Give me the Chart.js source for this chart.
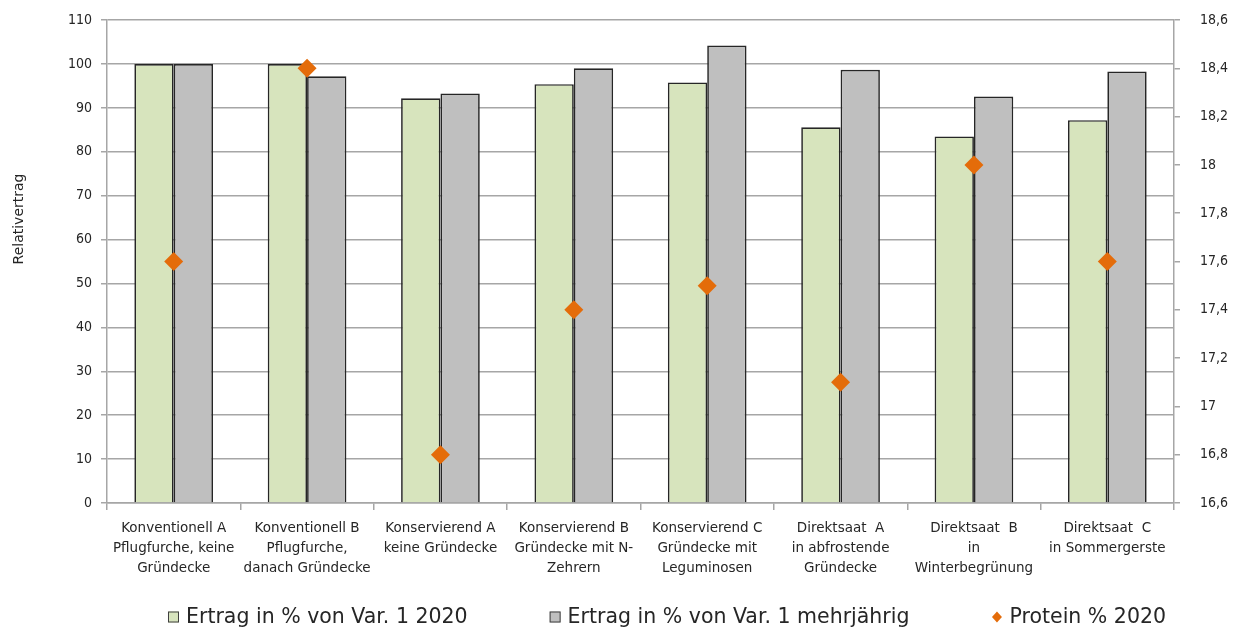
<!DOCTYPE html>
<html lang="de">
<head>
  <meta charset="UTF-8">
  <title>Relativertrag und Protein</title>
  <style>
    html, body { margin: 0; padding: 0; background: #fff; }
    #wrap { width: 1247px; height: 632px; }
  </style>
</head>
<body>
  <div id="wrap"><canvas id="chart" width="1247" height="632"></canvas></div>

  <script src="https://cdn.jsdelivr.net/npm/chart.js"></script>
  <script>
    const categories = [
      ["Konventionell A", "Pflugfurche, keine", "Gründecke"],
      ["Konventionell B", "Pflugfurche,", "danach Gründecke"],
      ["Konservierend A", "keine Gründecke"],
      ["Konservierend B", "Gründecke mit N-", "Zehrern"],
      ["Konservierend C", "Gründecke mit", "Leguminosen"],
      ["Direktsaat  A", "in abfrostende", "Gründecke"],
      ["Direktsaat  B", "in", "Winterbegrünung"],
      ["Direktsaat  C", "in Sommergerste"]
    ];
    const ertrag2020 = [100, 100, 92.2, 95.4, 95.8, 85.6, 83.5, 87.2];
    const ertragMehrj = [100, 97.2, 93.3, 99.0, 104.2, 98.7, 92.6, 98.3];
    const protein2020 = [17.6, 18.4, 16.8, 17.4, 17.5, 17.1, 18.0, 17.6];
    const seriesNames = ["Ertrag in % von Var. 1 2020", "Ertrag in % von Var. 1 mehrjährig", "Protein % 2020"];
    const yTitle = "Relativertrag";

    const FONT = "'DejaVu Sans', sans-serif";
    const FONT_NARROW = "'DejaVu Sans Condensed', 'DejaVu Sans', sans-serif";
    const GREEN = "#d7e4bd", GREY = "#bfbfbf", ORANGE = "#e46c0a";
    const GRID = "#a6a6a6", TEXT = "#262626";

    // legend and axis title drawn by hand so spacing and position match the original
    const extras = {
      id: "extras",
      afterDraw(chart) {
        const ctx = chart.ctx;
        ctx.save();

        ctx.fillStyle = TEXT;
        ctx.font = "14px " + FONT;
        ctx.textAlign = "center";
        ctx.textBaseline = "middle";
        ctx.translate(19, 219);
        ctx.rotate(-Math.PI / 2);
        ctx.fillText(yTitle, 0, 0);
        ctx.setTransform(1, 0, 0, 1, 0, 0);

        const y = 617, gap = 82, size = 11;
        ctx.font = "20.5px " + FONT;
        ctx.textAlign = "left";
        const widths = seriesNames.map(n => size + 7 + ctx.measureText(n).width);
        const total = widths.reduce((a, b) => a + b, 0) + gap * (widths.length - 1);
        let x = 667 - total / 2;
        seriesNames.forEach((name, i) => {
          if (i < 2) {
            ctx.fillStyle = i === 0 ? GREEN : GREY;
            ctx.fillRect(x, y - size / 2, size, size);
            ctx.strokeStyle = "#404040";
            ctx.lineWidth = 1;
            ctx.strokeRect(x + 0.5, y - size / 2 + 0.5, size - 1, size - 1);
          } else {
            ctx.fillStyle = ORANGE;
            ctx.beginPath();
            ctx.moveTo(x + size / 2, y - 5.5);
            ctx.lineTo(x + size / 2 + 5, y);
            ctx.lineTo(x + size / 2, y + 5.5);
            ctx.lineTo(x + size / 2 - 5, y);
            ctx.closePath();
            ctx.fill();
          }
          ctx.fillStyle = TEXT;
          ctx.textBaseline = "middle";
          ctx.fillText(name, x + size + 7, y + 1);
          x += widths[i] + gap;
        });
        ctx.restore();
      }
    };

    new Chart(document.getElementById("chart"), {
      type: "bar",
      data: {
        labels: categories,
        datasets: [
          {
            label: seriesNames[0],
            data: ertrag2020,
            backgroundColor: GREEN,
            borderColor: "#262626",
            borderWidth: 1.7,
            yAxisID: "y",
            order: 1
          },
          {
            label: seriesNames[1],
            data: ertragMehrj,
            backgroundColor: GREY,
            borderColor: "#262626",
            borderWidth: 1.7,
            yAxisID: "y",
            order: 1
          },
          {
            type: "line",
            label: seriesNames[2],
            data: protein2020,
            showLine: false,
            pointStyle: "rectRot",
            pointRadius: 9.5,
            pointHoverRadius: 9.5,
            pointBackgroundColor: ORANGE,
            pointBorderWidth: 0,
            yAxisID: "y1",
            order: 0
          }
        ]
      },
      options: {
        responsive: false,
        animation: false,
        categoryPercentage: 0.59,
        barPercentage: 1,
        layout: { padding: { top: 14, left: 0, right: 0, bottom: 0 } },
        plugins: {
          legend: { display: false },
          tooltip: { enabled: false }
        },
        scales: {
          x: {
            afterFit(s) { s.height = 129; },
            grid: { offset: true, drawOnChartArea: false, drawTicks: true, tickLength: 7, color: GRID, lineWidth: 1.5 },
            border: { color: GRID, width: 1.5 },
            ticks: { color: TEXT, font: { family: FONT, size: 13.5, lineHeight: 20 / 13.5 }, padding: 8, maxRotation: 0, autoSkip: false }
          },
          y: {
            position: "left",
            min: 0,
            max: 110,
            afterFit(s) { s.width = 107; },
            ticks: { stepSize: 10, color: TEXT, font: { family: FONT_NARROW, size: 14 }, padding: 9 },
            grid: { color: GRID, lineWidth: 1.5, tickLength: 6 },
            border: { color: GRID, width: 1.5 }
          },
          y1: {
            position: "right",
            min: 16.6,
            max: 18.6,
            afterFit(s) { s.width = 1247 - 1174; },
            ticks: {
              stepSize: 0.2,
              color: TEXT,
              font: { family: FONT_NARROW, size: 14, lineHeight: 0.01 },
              padding: 20,
              callback: v => String(Math.round(v * 10) / 10).replace(".", ",")
            },
            grid: { drawOnChartArea: false, color: GRID, lineWidth: 1.5, tickLength: 6 },
            border: { color: GRID, width: 1.5 }
          }
        }
      },
      plugins: [extras]
    });
  </script>
</body>
</html>
